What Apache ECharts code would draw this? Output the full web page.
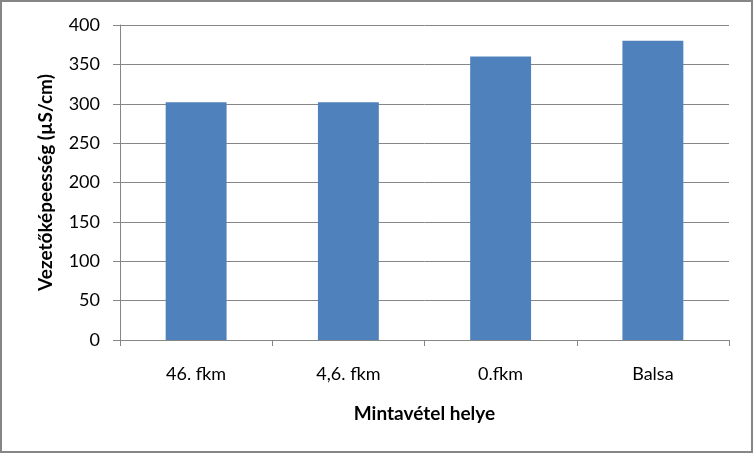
<!DOCTYPE html>
<html>
<head>
<meta charset="utf-8">
<script src="https://cdn.jsdelivr.net/npm/echarts@6/dist/echarts.min.js"></script>
<style>
html,body{margin:0;padding:0;background:#fff;}
#c{width:754px;height:454px;}
</style>
</head>
<body>
<div id="c"></div>
<script>
const categories = ['46. fkm', '4,6. fkm', '0.fkm', 'Balsa'];
const values = [302, 302, 360, 380];
const yTicks = { min: 0, max: 400, interval: 50 };
const xName = 'Mintavétel helye';
const yName = 'Vezetőképeesség (µS/cm)';

const chart = echarts.init(document.getElementById('c'), null, { renderer: 'canvas' });
const font = 'Lato, "Open Sans", sans-serif';
chart.setOption({
  animation: false,
  backgroundColor: '#fff',
  graphic: [{
    type: 'rect',
    shape: { x: 1, y: 1, width: 751, height: 451 },
    style: { fill: 'none', stroke: '#868686', lineWidth: 2 },
    silent: true
  }],
  grid: { left: 120, right: 25, top: 25, bottom: 114 },
  xAxis: {
    type: 'category',
    data: categories,
    name: xName,
    nameLocation: 'middle',
    nameGap: 64,
    nameTextStyle: { fontFamily: font, fontSize: 19, fontWeight: 'bold', color: '#000' },
    axisLine: { lineStyle: { color: '#868686', width: 1 } },
    axisTick: { show: true, length: 6, alignWithLabel: false, lineStyle: { color: '#868686' } },
    axisLabel: { fontFamily: font, fontSize: 18, color: '#000', margin: 25 },
    splitLine: { show: false }
  },
  yAxis: {
    type: 'value',
    min: yTicks.min,
    max: yTicks.max,
    interval: yTicks.interval,
    name: yName,
    nameLocation: 'middle',
    nameGap: 65,
    nameTextStyle: { fontFamily: font, fontSize: 19, fontWeight: 'bold', color: '#000' },
    axisLine: { show: true, lineStyle: { color: '#868686', width: 1 } },
    axisTick: { show: true, length: 7, lineStyle: { color: '#868686' } },
    axisLabel: { fontFamily: font, fontSize: 18, color: '#000', margin: 20 },
    splitLine: { show: true, lineStyle: { color: '#868686', width: 1 } }
  },
  series: [{
    type: 'bar',
    data: values,
    barCategoryGap: '60%',
    itemStyle: { color: '#4F81BD' }
  }]
});
</script>
</body>
</html>
